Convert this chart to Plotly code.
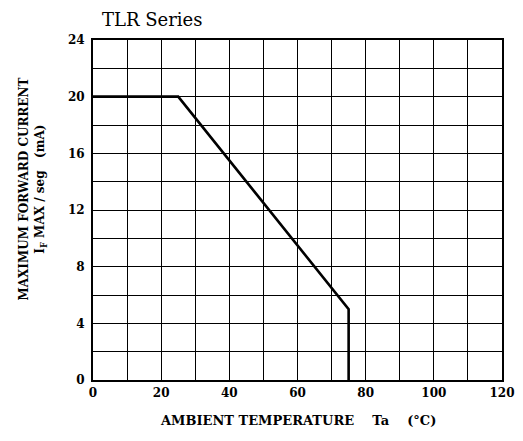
import plotly.graph_objects as go

# derating curve
temp_c = [0, 25, 75, 75]
current_ma = [20, 20, 5, 0]

x_ticks = [0, 20, 40, 60, 80, 100, 120]
y_ticks = [0, 4, 8, 12, 16, 20, 24]

SERIF = "DejaVu Serif"

fig = go.Figure()
fig.add_scatter(
    x=temp_c,
    y=current_ma,
    mode="lines",
    line=dict(color="black", width=2.6),
    showlegend=False,
    hoverinfo="skip",
)

axis_common = dict(
    showline=True,
    linecolor="black",
    linewidth=2,
    mirror=True,
    showgrid=True,
    gridcolor="black",
    gridwidth=1.4,
    zeroline=False,
    ticks="",
    automargin=False,
    ticklabeloverflow="allow",
    tickfont=dict(family=SERIF, size=12, color="black", weight="bold"),
)

fig.update_xaxes(
    range=[0, 120],
    tickvals=x_ticks,
    minor=dict(dtick=10, showgrid=True, gridcolor="black", gridwidth=1.4),
    ticklabelstandoff=1,
    **axis_common,
)
fig.update_yaxes(
    range=[0, 24],
    tickvals=y_ticks,
    minor=dict(dtick=2, showgrid=True, gridcolor="black", gridwidth=1.4),
    ticklabelstandoff=4,
    **axis_common,
)

fig.add_annotation(
    text="TLR Series",
    x=0, y=1.0, xref="paper", yref="paper",
    xanchor="left", yanchor="bottom", xshift=7, yshift=8,
    showarrow=False,
    font=dict(family=SERIF, size=18, color="black"),
)
fig.add_annotation(
    text="AMBIENT TEMPERATURE    Ta    (°C)",
    x=0.5, y=0, xref="paper", yref="paper",
    xanchor="center", yanchor="top", yshift=-31,
    showarrow=False,
    font=dict(family=SERIF, size=13, color="black", weight="bold"),
)
fig.add_annotation(
    text="MAXIMUM FORWARD CURRENT<br>I<sub>F</sub> MAX / seg   (mA)",
    x=0, y=0.56, xref="paper", yref="paper",
    xanchor="center", yanchor="middle", xshift=-60,
    textangle=-90,
    showarrow=False,
    font=dict(family=SERIF, size=12, color="black", weight="bold"),
)

# page body adds an 8px margin, so keep the figure (and the "120" label) inside the window
fig.update_layout(
    width=507,
    height=420,
    margin=dict(l=85, r=13, t=32, b=48),
    paper_bgcolor="white",
    plot_bgcolor="white",
)

fig.write_html("out.html")
